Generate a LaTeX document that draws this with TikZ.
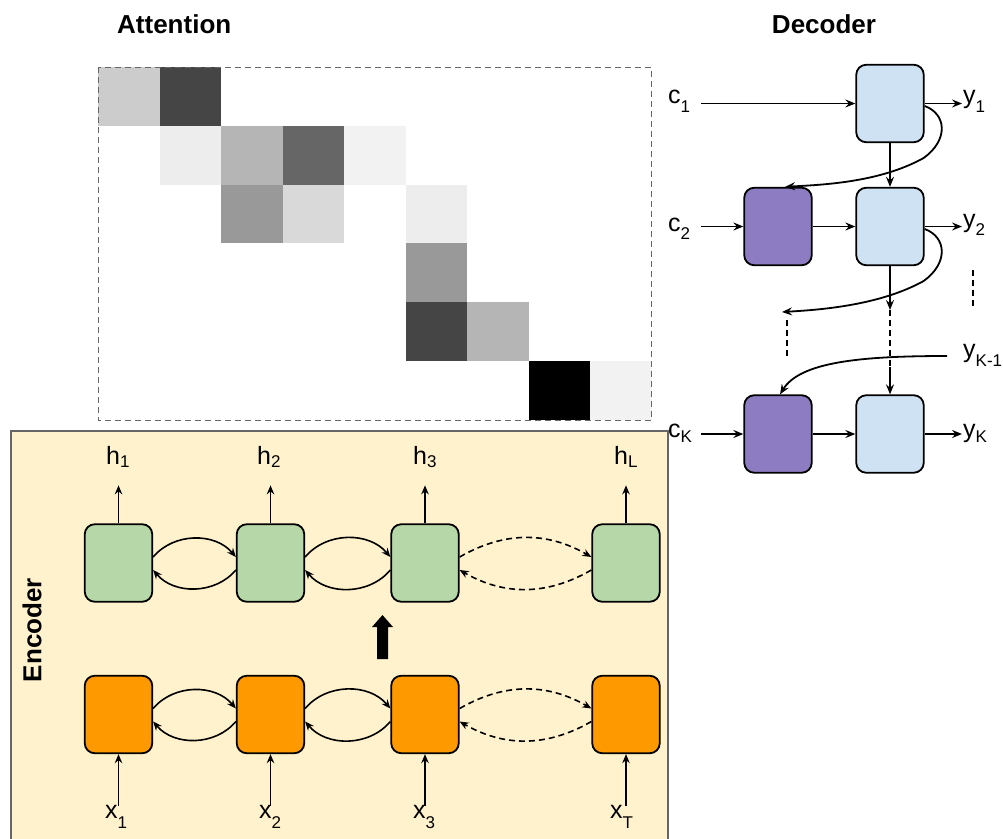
\documentclass[tikz,border=0pt]{standalone}
\usepackage{fontspec}
\setmainfont{Liberation Sans}
\usetikzlibrary{arrows.meta}

\definecolor{encbg}{HTML}{FFF2CC}
\definecolor{encframe}{HTML}{666666}
\definecolor{grn}{HTML}{B6D7A8}
\definecolor{org}{HTML}{FF9900}
\definecolor{dblue}{HTML}{CFE2F3}
\definecolor{dpurp}{HTML}{8E7CC3}
\definecolor{gridframe}{HTML}{666666}

% subscript lowered by #1
\newcommand{\subl}[2]{\raisebox{-#1}{\fontsize{17pt}{17pt}\selectfont #2}}

\tikzset{
  rnn/.style={draw=black, line width=1.8pt, rounded corners=10pt,
    minimum width=67.5pt, minimum height=77.5pt, inner sep=0pt},
  greencell/.style={rnn, fill=grn},
  orangecell/.style={rnn, fill=org},
  bluecell/.style={rnn, fill=dblue},
  purplecell/.style={rnn, fill=dpurp},
  conn/.style={line width=1.8pt, -{Stealth[length=10pt,width=8pt,inset=3.5pt]}},
  thinconn/.style={line width=1.6pt, -{Stealth[length=9pt,width=7.5pt,inset=3pt]}},
  dthinconn/.style={thinconn, dash pattern=on 6pt off 4pt},
  dline/.style={line width=1.8pt, dash pattern=on 6pt off 4pt},
  lbl/.style={font=\fontsize{25pt}{25pt}\selectfont, inner sep=0pt, anchor=base west},
  heading/.style={font=\bfseries\fontsize{26pt}{26pt}\selectfont, inner sep=0pt},
}

\begin{document}
\begin{tikzpicture}[x=1pt,y=-1pt]
\useasboundingbox (0,0) rectangle (1003,838);

% ---------------- attention heat map ----------------
\node[heading, anchor=base west] (atttitle) at (117,33) {Attention};
\foreach \c/\r/\g in {1/1/80,2/1/27,2/2/93,3/2/71,4/2/40,5/2/95,3/3/60,4/3/85,
                      6/3/93,6/4/60,6/5/27,7/5/71,8/6/0,9/6/95}
  \fill[white!\g!black] ({98+61.5*(\c-1)},{67+58.83*(\r-1)}) rectangle ++(61.5,58.83);
\draw[gridframe, line width=1pt, dash pattern=on 6pt off 4pt] (98,67) rectangle (651.5,420);

% ---------------- encoder ----------------
\draw[encframe, fill=encbg, line width=2pt] (11,431) rectangle (668,860);
\node[heading, rotate=90] (enctitle) at (32,630) {Encoder};

\foreach \i/\x in {1/118.5,2/270.5,3/425,4/626} {
  \node[greencell] (g\i) at (\x,563) {};
  \node[orangecell] (o\i) at (\x,714.5) {};
}

% outputs h
\node[lbl] (h1) at (106,464) {h\subl{3pt}{1}};
\node[lbl] (h2) at (257,464) {h\subl{3pt}{2}};
\node[lbl] (h3) at (413,464) {h\subl{3pt}{3}};
\node[lbl] (hL) at (614,464) {h\subl{3pt}{L}};
\foreach \i in {1,2,3,4}
  \draw[thinconn] (g\i.north) -- ([yshift=38pt]g\i.north);

% inputs x
\node[lbl] (x1) at (105,818) {x\subl{10pt}{1}};
\node[lbl] (x2) at (259,818) {x\subl{10pt}{2}};
\node[lbl] (x3) at (413,818) {x\subl{10pt}{3}};
\node[lbl] (xT) at (610,818) {x\subl{10pt}{T}};
\foreach \i in {1,2,3,4}
  \draw[thinconn] ([yshift=-52pt]o\i.south) -- (o\i.south);

% bidirectional links
\foreach \r in {g,o} {
  \foreach \a/\b in {1/2,2/3} {
    \draw[thinconn] ([yshift=6pt]\r\a.east) to[out=50,in=130] ([yshift=6pt]\r\b.west);
    \draw[thinconn] ([yshift=-7pt]\r\b.west) to[out=230,in=-50] ([yshift=-7pt]\r\a.east);
  }
  \draw[dthinconn] ([yshift=6pt]\r3.east) to[out=30,in=150] ([yshift=6pt]\r4.west);
  \draw[dthinconn] ([yshift=-7pt]\r4.west) to[out=210,in=-30] ([yshift=-7pt]\r3.east);
}

% stacking arrow
\fill[black] (382.5,615) -- (393,627) -- (388,627) -- (388,659) -- (377,659)
  -- (377,627) -- (372,627) -- cycle;

% ---------------- decoder ----------------
\node[heading, anchor=base] (dectitle) at (824,33) {Decoder};

\node[bluecell] (b1) at (890,103.5) {};
\node[bluecell] (b2) at (890,226.5) {};
\node[bluecell] (b3) at (890,434) {};
\node[purplecell] (p2) at (778,226.5) {};
\node[purplecell] (p3) at (778,434) {};

\node[lbl] (c1) at (668,103) {c\subl{9pt}{1}};
\node[lbl] (c2) at (668,231) {c\subl{8pt}{2}};
\node[lbl] (cK) at (668,437) {c\subl{5pt}{K}};
\node[lbl] (y1) at (963,103) {y\subl{9pt}{1}};
\node[lbl] (y2) at (963,227) {y\subl{8pt}{2}};
\node[lbl] (yK1) at (963,357) {y\subl{9pt}{K-1}};
\node[lbl] (yK) at (963,437) {y\subl{5pt}{K}};

\coordinate (c1s) at (701,103.5);
\coordinate (c2s) at (701,226.5);
\coordinate (cKs) at (701,434);
\coordinate (y1e) at (962,103.5);
\coordinate (y2e) at (962,226.5);
\coordinate (yKe) at (962,434);
\coordinate (yK1s) at (947,356);
\coordinate (mid1) at (890,310);
\coordinate (mid2) at (890,367);
\coordinate (fb2) at (782,312);

\draw[conn] (c1s) -- (b1.west);
\draw[conn] (c2s) -- (p2.west);
\draw[conn] (cKs) -- (p3.west);
\draw[conn] (p2.east) -- (b2.west);
\draw[conn] (p3.east) -- (b3.west);
\draw[conn] (b1.east) -- (y1e);
\draw[conn] (b2.east) -- (y2e);
\draw[conn] (b3.east) -- (yKe);

\draw[conn] (b1.south) -- (b2.north);
\draw[conn] (b2.south) -- (mid1);
\draw[dline] (mid1) -- (mid2);
\draw[conn] (mid2) -- (b3.north);

% feedback of previous outputs
\draw[conn] ([yshift=-2.5pt]b1.east) .. controls +(22,8) and +(25,-18) .. ++(-1,52)
  .. controls +(-45,25) and +(35,-2) .. ([xshift=7pt]p2.north);
\draw[conn] ([yshift=-2.5pt]b2.east) .. controls +(22,8) and +(25,-18) .. ++(-1,52)
  .. controls +(-45,25) and +(35,-2) .. (fb2);
\draw[conn] (yK1s) .. controls (860,356) and (800,362) .. ([xshift=2pt]p3.north);

\draw[dline] (787,320) -- (787,357);
\draw[dline] (973,270) -- (973,307);
\end{tikzpicture}
\end{document}
